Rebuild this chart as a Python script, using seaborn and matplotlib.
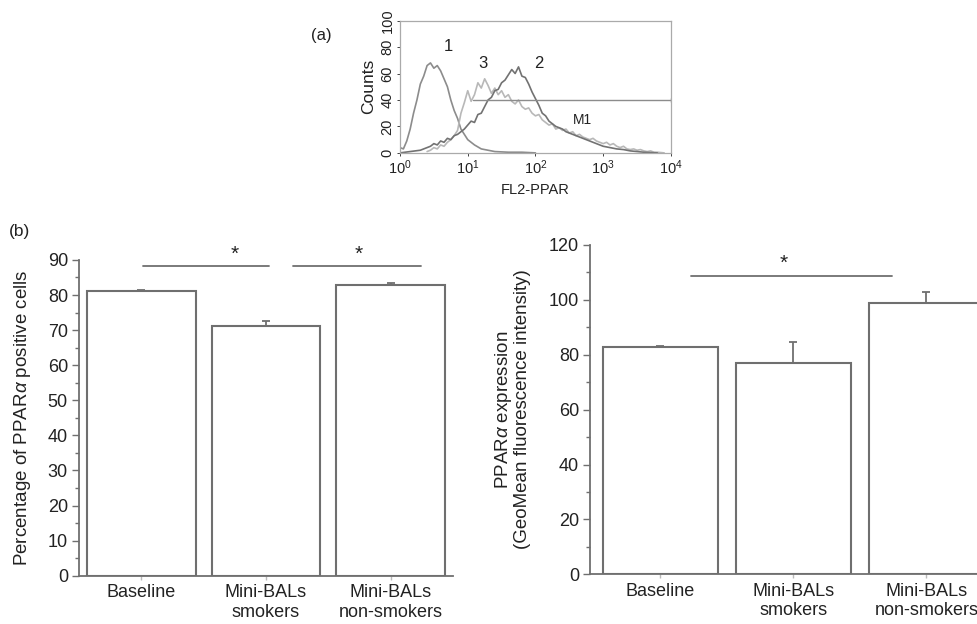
"""PPARalpha flow cytometry histogram and bar charts (panels a and b)"""

import numpy as np
import pandas as pd
import matplotlib
matplotlib.use('Agg')
import matplotlib.pyplot as plt
import seaborn as sns

# panel (a): histogram traces, x in decades (log10 FL2), y in counts
dec_1 = [0.0, 0.05, 0.1, 0.15, 0.2, 0.25, 0.3, 0.35, 0.4, 0.45, 0.5, 0.55, 0.6, 0.65, 0.7,
         0.75, 0.8, 0.85, 0.9, 0.95, 1.0, 1.1, 1.2, 1.3, 1.4, 1.6, 1.8, 2.0]
counts_1 = [4, 3, 9, 18, 30, 40, 52, 58, 66, 68, 64, 66, 62, 56, 50,
            40, 32, 26, 18, 14, 10, 6, 3, 2, 1, 0.5, 0.5, 0]

dec_2 = [0.0, 0.3, 0.4, 0.45, 0.5, 0.55, 0.6, 0.65, 0.7, 0.75, 0.8, 0.85, 0.9, 0.95,
         1.0, 1.05, 1.1, 1.15, 1.2, 1.25, 1.3, 1.35, 1.4, 1.45, 1.5, 1.55, 1.6, 1.65,
         1.7, 1.75, 1.8, 1.85, 1.9, 1.95, 2.0, 2.05, 2.1, 2.15, 2.2, 2.25, 2.3, 2.35,
         2.4, 2.45, 2.5, 2.55, 2.6, 2.65, 2.7, 2.75, 2.8, 2.85, 2.9, 2.95, 3.0, 3.1,
         3.2, 3.3, 3.4, 3.5, 3.6, 3.8]
counts_2 = [0, 2, 4, 5, 7, 6, 9, 8, 11, 10, 13, 14, 16, 18,
            21, 24, 23, 29, 30, 35, 40, 42, 47, 48, 53, 55, 59, 63,
            60, 65, 58, 57, 52, 46, 41, 36, 30, 28, 24, 22, 20, 19,
            18, 16, 15, 14, 13, 12, 11, 10, 9, 8, 7, 6, 5, 4,
            3, 2.5, 1.5, 1, 0.5, 0]

dec_3 = [0.4, 0.45, 0.5, 0.55, 0.6, 0.65, 0.7, 0.75, 0.8, 0.85, 0.9, 0.95, 1.0, 1.05,
         1.1, 1.15, 1.2, 1.25, 1.3, 1.35, 1.4, 1.45, 1.5, 1.55, 1.6, 1.65, 1.7, 1.75,
         1.8, 1.85, 1.9, 1.95, 2.0, 2.05, 2.1, 2.15, 2.2, 2.25, 2.3, 2.35, 2.4, 2.45,
         2.5, 2.55, 2.6, 2.65, 2.7, 2.75, 2.8, 2.85, 2.9, 2.95, 3.0, 3.05, 3.1, 3.15,
         3.2, 3.25, 3.3, 3.35, 3.4, 3.45, 3.5, 3.55, 3.6, 3.65, 3.7, 3.75, 3.8, 3.9]
counts_3 = [1, 2, 4, 3, 6, 5, 8, 10, 13, 17, 30, 38, 47, 39,
            44, 53, 49, 56, 51, 45, 49, 44, 47, 42, 44, 39, 37, 40,
            35, 33, 34, 30, 28, 29, 25, 23, 21, 22, 18, 19, 17, 18,
            15, 16, 13, 14, 12, 11, 10, 11, 9, 8, 7, 8, 6, 7,
            5, 4, 5, 3, 2.5, 3, 2, 2.5, 1.5, 1, 1.5, 0.5, 0.5, 0]

gate_m1 = [10 ** 1.08, 10 ** 4.0]
gate_level = 40

# panel (b)
groups = ['Baseline', 'Mini-BALs\nsmokers', 'Mini-BALs\nnon-smokers']
pct_positive = [81.2, 71.3, 83.0]
pct_err = [0.3, 1.2, 0.4]
geomean = [82.7, 77.1, 98.8]
geomean_err = [0.5, 7.4, 4.0]

sns.set_style('ticks')
plt.rcParams['font.family'] = ['Liberation Sans', 'DejaVu Sans']
plt.rcParams['mathtext.fontset'] = 'custom'
plt.rcParams['mathtext.rm'] = 'Liberation Sans'
plt.rcParams['mathtext.it'] = 'Liberation Sans:italic'

GRAY = '#6f6f6f'
TXT = '#222222'

fig = plt.figure(figsize=(9.78, 6.24), dpi=100)

# ---------- (a) histogram ----------
ax_a = fig.add_axes([0.409, 0.755, 0.277, 0.212])
sns.lineplot(x=np.power(10.0, dec_1), y=counts_1, ax=ax_a, color='#8c8c8c', lw=1.2)
sns.lineplot(x=np.power(10.0, dec_3), y=counts_3, ax=ax_a, color='#b8b8b8', lw=1.2)
sns.lineplot(x=np.power(10.0, dec_2), y=counts_2, ax=ax_a, color='#727272', lw=1.2)
ax_a.plot(gate_m1, [gate_level, gate_level], color='#8c8c8c', lw=1)
ax_a.plot([gate_m1[1]] * 2, [gate_level - 1.5, gate_level + 1.5], color='#8c8c8c', lw=1)
ax_a.set_xscale('log')
ax_a.set_xlim(1, 1e4)
ax_a.set_ylim(0, 100)
ax_a.set_yticks([0, 20, 40, 60, 80, 100])
ax_a.set_xticks([1, 10, 100, 1000, 10000])
ax_a.minorticks_off()
for lbl in ax_a.get_yticklabels():
    lbl.set_rotation(90)
    lbl.set_va('center')
ax_a.tick_params(labelsize=10.5, colors=TXT, length=2, width=0.6, pad=2)
for sp in ax_a.spines.values():
    sp.set_color('#aaaaaa')
    sp.set_linewidth(0.9)
ax_a.set_ylabel('Counts', fontsize=12.5, color=TXT, labelpad=3)
ax_a.set_xlabel('FL2-PPAR', fontsize=10.5, color=TXT, labelpad=4)
ax_a.text(10 ** 0.65, 77, '1', fontsize=12, color=TXT)
ax_a.text(10 ** 1.15, 64, '3', fontsize=12, color=TXT)
ax_a.text(10 ** 1.98, 64, '2', fontsize=12, color=TXT)
ax_a.text(10 ** 2.55, 22, 'M1', fontsize=10, color=TXT)
fig.text(0.318, 0.936, '(a)', fontsize=12, color=TXT)
fig.text(0.009, 0.622, '(b)', fontsize=12.5, color=TXT)


def bar_panel(ax, values, errs, ymax, major, minor, ylabel, pad):
    df = pd.DataFrame({'group': groups, 'value': values})
    sns.barplot(data=df, x='group', y='value', ax=ax, color='white',
                edgecolor=GRAY, linewidth=1.5, width=0.87, errorbar=None, saturation=1)
    ax.errorbar(range(len(values)), values, yerr=[[0] * len(errs), errs],
                fmt='none', ecolor=GRAY, elinewidth=1.3, capsize=3, capthick=1.3)
    ax.set_ylim(0, ymax)
    ax.set_yticks(np.arange(0, ymax + 1, major))
    ax.set_yticks(np.arange(0, ymax + 1, minor), minor=True)
    ax.tick_params(axis='y', which='major', labelsize=13, colors=TXT, length=5, width=1, color=GRAY, pad=3)
    ax.tick_params(axis='y', which='minor', length=3, width=1, color=GRAY)
    ax.tick_params(axis='x', labelsize=13, colors=TXT, length=3, width=1, color='#bbbbbb', pad=3)
    ax.set_xlabel('')
    ax.set_ylabel(ylabel, fontsize=13.5, color=TXT, labelpad=pad, linespacing=1.0)
    sns.despine(ax=ax)
    ax.spines['left'].set_color(GRAY)
    ax.spines['bottom'].set_color(GRAY)
    ax.spines['left'].set_linewidth(1.3)
    ax.spines['bottom'].set_linewidth(1.3)


def sig_bar(ax, x0, x1, y, ystar, xstar):
    ax.plot([x0, x1], [y, y], color=GRAY, lw=1.3, clip_on=False)
    ax.text(xstar, ystar, '*', fontsize=15, ha='center', va='center', color=TXT, clip_on=False)


# ---------- (b) left: percentage ----------
ax_l = fig.add_axes([0.0808, 0.0774, 0.3824, 0.506])
bar_panel(ax_l, pct_positive, pct_err, 90, 10, 5,
          'Percentage of PPAR$\\it{\\alpha}$ positive cells', 10.5)
ax_l.set_xlim(-0.5, 2.5)
sig_bar(ax_l, 0.01, 1.02, 88.2, 91.6, 0.75)
sig_bar(ax_l, 1.22, 2.24, 88.2, 91.6, 1.74)

# ---------- (b) right: GeoMean ----------
ax_r = fig.add_axes([0.6033, 0.0796, 0.416, 0.528])
bar_panel(ax_r, geomean, geomean_err, 120, 20, 10,
          'PPAR$\\it{\\alpha}$ expression\n(GeoMean fluorescence intensity)', 13)
ax_r.set_xlim(-0.53, 2.53)
sig_bar(ax_r, 0.23, 1.74, 108.7, 113.3, 0.93)

fig.savefig('out.png', dpi=100)
